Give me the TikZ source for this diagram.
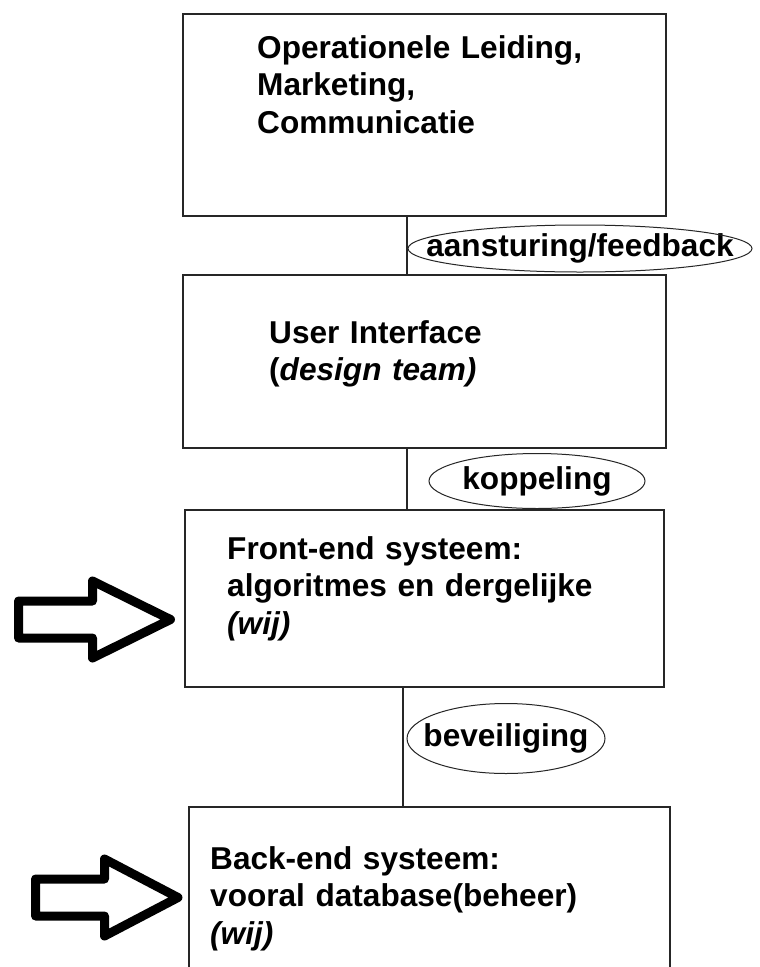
\documentclass[tikz,border=0pt]{standalone}
\usepackage{fontspec}
\setmainfont{Liberation Sans}
\usetikzlibrary{shapes.geometric}

\tikzset{
    blok/.style={draw=black!85, line width=2pt, rectangle, inner sep=0pt},
    tekst/.style={anchor=base west, inner sep=0pt, text width=440pt, align=left,
        font=\fontsize{31.6pt}{37.8pt}\selectfont\bfseries},
    etiket/.style={inner sep=0pt, font=\fontsize{31.6pt}{37.8pt}\selectfont\bfseries},
    rand/.style={draw=black!85, line width=1pt},
    lijn/.style={draw=black!85, line width=1.5pt},
    pijl/.style={draw=black, line width=9pt, line join=round, fill=white}
}

\begin{document}
\begin{tikzpicture}[x=1pt, y=-1pt]
    \clip (0,0) rectangle (760,967);
    \fill[white] (0,0) rectangle (760,967);

    % blokken
    \node[blok, minimum width=483pt, minimum height=202pt] (leiding) at (424.5,115) {};
    \node[blok, minimum width=483pt, minimum height=173pt] (ui) at (424.5,361.5) {};
    \node[blok, minimum width=479pt, minimum height=177pt] (front) at (424.5,598.5) {};
    \node[blok, minimum width=481pt, minimum height=200pt] (back) at (429.5,907) {};

    \node[tekst] (leidingtxt) at (257,58) {Operationele Leiding,\\Marketing,\\Communicatie};
    \node[tekst] (uitxt) at (269,343) {User Interface\\(\textit{design team)}};
    \node[tekst] (fronttxt) at (227,559) {Front-end systeem:\\algoritmes en dergelijke\\\textit{(wij)}};
    \node[tekst] (backtxt) at (210,869) {Back-end systeem:\\vooral database(beheer)\\\textit{(wij)}};

    % verbindingen
    \coordinate (as1) at (407,0);
    \coordinate (as2) at (403,0);
    \draw[lijn] (leiding.south -| as1) -- (ui.north -| as1);
    \draw[lijn] (ui.south -| as1) -- (front.north -| as1);
    \draw[lijn] (front.south -| as2) -- (back.north -| as2);

    % etiketten
    \node[etiket] (stuur) at (580,248.5) {aansturing/feedback};
    \draw[rand] (stuur) ellipse [x radius=172pt, y radius=23.5pt];
    \node[etiket] (koppel) at (537,481) {koppeling};
    \draw[rand] (koppel) ellipse [x radius=108pt, y radius=27.5pt];
    \node[etiket] (beveilig) at (506,738.5) {beveiliging};
    \draw[rand] (beveilig) ellipse [x radius=99pt, y radius=35pt];

    % pijlen naar de blokken van ons
    \foreach \tx/\bx/\px/\cy in {18.5/92.5/170.5/619.5, 35.5/104.5/178/897.5}
        \draw[pijl] (\tx,\cy-18.5) -- (\bx,\cy-18.5) -- (\bx,\cy-38.5) -- (\px,\cy)
            -- (\bx,\cy+38.5) -- (\bx,\cy+18.5) -- (\tx,\cy+18.5) -- cycle;
\end{tikzpicture}
\end{document}
